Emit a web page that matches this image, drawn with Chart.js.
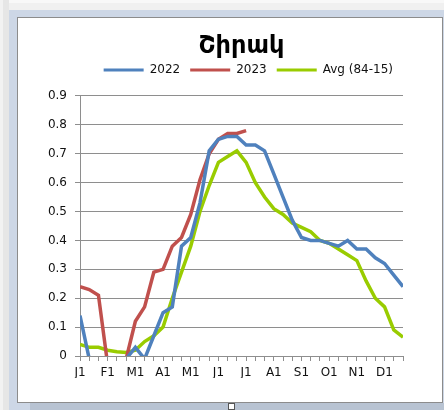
<!DOCTYPE html>
<html>
<head>
<meta charset="utf-8">
<script src="https://cdn.jsdelivr.net/npm/chart.js@4.4.1/dist/chart.umd.min.js"></script>
<style>
  html, body { margin: 0; padding: 0; }
  body { width: 444px; height: 410px; background: #cdd7e6; position: relative; overflow: hidden; }
  #topbar { position: absolute; left: 0; top: 0; width: 444px; height: 10px; background: #f0f0f0; border-top: 3px solid #f8f8f8; box-sizing: border-box; }
  #leftbar { position: absolute; left: 0; top: 0; width: 9px; height: 410px; background: #e6e6e6; border-left: 3px solid #f2f2f2; box-sizing: border-box; }
  #bottombar { position: absolute; left: 30px; top: 403px; width: 414px; height: 7px; background: #b8c3d2; }
  #box { position: absolute; left: 17px; top: 17px; width: 424px; height: 384px; background: #fff; border: 1px solid #8c8c8c; }
  #handle { position: absolute; left: 228px; top: 403px; width: 5px; height: 5px; background: #fff; border: 1px solid #555; }
  #wrap { position: absolute; left: 18px; top: 18px; width: 424px; height: 384px; }
</style>
</head>
<body>
<div id="topbar"></div>
<div id="leftbar"></div>
<div id="bottombar"></div>
<div id="box"></div>
<div id="handle"></div>
<div id="wrap"><canvas id="canvas" width="424" height="384"></canvas></div>

<script>
  // dekads: first, second, third ten days of each month
  var months = ['J', 'F', 'M', 'A', 'M', 'J', 'J', 'A', 'S', 'O', 'N', 'D'];
  var dekads = [];
  months.forEach(function (m) { dekads.push(m + '1', m + '2', m + '3'); });

  var y2022 = [0.14, -0.01, -0.10, -0.10, -0.08, -0.01, 0.03, -0.01, 0.07, 0.15, 0.17, 0.38,
               0.41, 0.53, 0.71, 0.75, 0.76, 0.76, 0.73, 0.73, 0.71, 0.63, 0.55, 0.47,
               0.41, 0.40, 0.40, 0.39, 0.38, 0.40, 0.37, 0.37, 0.34, 0.32, 0.28, 0.24];
  var y2023 = [0.24, 0.23, 0.21, -0.03, -0.05, -0.01, 0.12, 0.17, 0.29, 0.30, 0.38, 0.41,
               0.49, 0.61, 0.70, 0.75, 0.77, 0.77, 0.78];
  var avg8415 = [0.04, 0.03, 0.03, 0.02, 0.015, 0.012, 0.02, 0.05, 0.07, 0.10, 0.20, 0.29,
                 0.38, 0.50, 0.59, 0.67, 0.69, 0.71, 0.67, 0.60, 0.55, 0.51, 0.49, 0.46,
                 0.445, 0.43, 0.40, 0.39, 0.37, 0.35, 0.33, 0.26, 0.20, 0.17, 0.09, 0.065];
  var yTicks = [0, 0.1, 0.2, 0.3, 0.4, 0.5, 0.6, 0.7, 0.8, 0.9];

  var font = "'DejaVu Sans', Verdana, sans-serif";
  var gridColor = '#8e8e8e';

  function series(label, data, color) {
    return {
      label: label,
      data: data,
      borderColor: color,
      backgroundColor: color,
      borderWidth: 3.5,
      pointRadius: 0,
      tension: 0,
      clip: 0
    };
  }

  var config = {
    type: 'line',
    data: {
      labels: dekads,
      datasets: [
        series('2022', y2022, '#4f81bd'),
        series('2023', y2023, '#c0504d'),
        series('Avg (84-15)', avg8415, '#99cc00')
      ]
    },
    options: {
      responsive: false,
      animation: false,
      layout: { padding: { left: 26, right: 39, top: 22, bottom: 24 } },
      plugins: {
        title: {
          display: true,
          fullSize: false,
          text: 'Շիրակ',
          color: '#000',
          padding: 0,
          font: { family: font, size: 24, weight: 'bold', lineHeight: 0.58 }
        },
        subtitle: {
          display: true,
          text: '',
          weight: 500,
          padding: 0,
          font: { size: 10, lineHeight: 1 }
        },
        legend: {
          position: 'top',
          align: 'end',
          fullSize: false,
          labels: {
            color: '#111',
            boxWidth: 40,
            boxHeight: 3,
            padding: 10,
            font: { family: font, size: 12 },
            generateLabels: function (chart) {
              return Chart.defaults.plugins.legend.labels.generateLabels(chart).map(function (l) {
                l.lineWidth = 0;
                return l;
              });
            }
          }
        },
        tooltip: { enabled: false }
      },
      scales: {
        x: {
          afterFit: function (scale) { scale.height = 22; },
          grid: { drawOnChartArea: false, drawTicks: true, tickLength: 5, color: gridColor },
          border: { color: gridColor },
          ticks: {
            autoSkip: false,
            maxRotation: 0,
            padding: 5,
            color: '#111',
            font: { family: font, size: 12 },
            callback: function (v, i) { return i % 3 === 0 ? dekads[i] : ''; }
          }
        },
        y: {
          min: yTicks[0],
          max: yTicks[yTicks.length - 1],
          afterFit: function (scale) { scale.width = 36; },
          afterBuildTicks: function (scale) {
            scale.ticks = yTicks.map(function (v) { return { value: v }; });
          },
          grid: { color: gridColor, tickLength: 5 },
          border: { color: gridColor },
          ticks: {
            padding: 8,
            color: '#111',
            font: { family: font, size: 12 },
            callback: function (v) { return String(v); }
          }
        }
      }
    }
  };

  window.onload = function () {
    window.myLine = new Chart(document.getElementById('canvas'), config);
  };
</script>
</body>
</html>
